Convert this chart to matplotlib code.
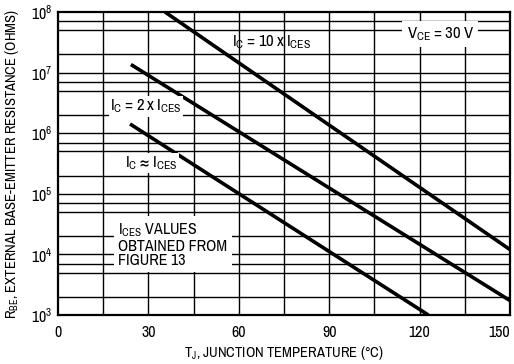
import matplotlib
matplotlib.use("Agg")
import matplotlib.pyplot as plt
import numpy as np

plt.rcParams['font.family'] = ['Archivo Narrow', 'DejaVu Sans']
plt.rcParams['font.weight'] = 'bold'

# Data (start/end points of each straight line on the log scale)
t_10x = [35.5, 150]
r_10x = [1.0e8, 1.2e4]
t_2x = [24.2, 150]
r_2x = [1.36e7, 1.73e3]
t_1x = [23.9, 122.9]
r_1x = [1.42e6, 1.0e3]

x_ticks = [0, 30, 60, 90, 120, 150]
x_grid = [15, 45, 75, 105, 135]
y_decades = [1e3, 1e4, 1e5, 1e6, 1e7, 1e8]
y_minor_mult = [2, 5, 7]

fig = plt.figure(figsize=(5.14, 3.64), dpi=100)
ax = fig.add_axes([58/514, 49/364, 452/514, 303/364])
ax.set_yscale('log')
ax.set_xlim(0, 150)
ax.set_ylim(1e3, 1e8)

# grid
for xv in x_ticks[1:-1] + x_grid:
    ax.axvline(xv, color='black', lw=1.0, zorder=1)
for d in y_decades[:-1]:
    for m in y_minor_mult:
        ax.axhline(d * m, color='black', lw=1.0, zorder=1)
for d in y_decades[1:-1]:
    ax.axhline(d, color='black', lw=1.0, zorder=1)

for sp in ax.spines.values():
    sp.set_linewidth(1.6)

lw = 2.6
ax.plot(t_10x, r_10x, color='black', lw=lw, solid_capstyle='butt', zorder=3)
ax.plot(t_2x, r_2x, color='black', lw=lw, solid_capstyle='butt', zorder=3)
ax.plot(t_1x, r_1x, color='black', lw=lw, solid_capstyle='butt', zorder=3)

ax.set_xticks(x_ticks)
ax.set_xticklabels([str(v) for v in x_ticks])
ax.set_yticks(y_decades)
ax.set_yticklabels([r'$\mathregular{10^{%d}}$' % int(np.log10(v)) for v in y_decades])
ax.minorticks_off()
ax.tick_params(length=0, labelsize=11.5)
ax.tick_params(axis='x', pad=7)
ax.tick_params(axis='y', pad=4)
xl = ax.get_xticklabels()
xl[-1].set_horizontalalignment('right')
xl[-1].set_x(150)

fs = 12
ax.text(71, 10**7.50, r'$\mathregular{I_C = 10\,x\,I_{CES}}$', ha='center', va='center', fontsize=fs, zorder=4)
ax.text(126.8, 10**7.63, r'$\mathregular{V_{CE} = 30\,V}$', ha='center', va='center', fontsize=fs, zorder=4,
        bbox=dict(facecolor='white', edgecolor='none', pad=3))
ax.text(29.2, 10**6.44, r'$\mathregular{I_C = 2\,x\,I_{CES}}$', ha='center', va='center', fontsize=fs, zorder=4,
        bbox=dict(facecolor='white', edgecolor='none', pad=1))
ax.text(30.9, 10**5.51, r'$\mathregular{I_C \approx I_{CES}}$', ha='center', va='center', fontsize=fs, zorder=4,
        bbox=dict(facecolor='white', edgecolor='none', pad=1))
ax.text(20.0, 10**4.16, r'$\mathregular{I_{CES}}$ VALUES' + '\nOBTAINED FROM\nFIGURE 13', ha='left', va='center',
        fontsize=11.5, linespacing=0.95, zorder=4, bbox=dict(facecolor='white', edgecolor='none', pad=3))

ax.set_xlabel(r'$\mathregular{T_J}$, JUNCTION TEMPERATURE (°C)', fontsize=10.5, labelpad=3)
ax.set_ylabel(r'$\mathregular{R_{BE}}$, EXTERNAL BASE-EMITTER RESISTANCE (OHMS)', fontsize=10.5, labelpad=7)

fig.savefig('out.png', dpi=100)
